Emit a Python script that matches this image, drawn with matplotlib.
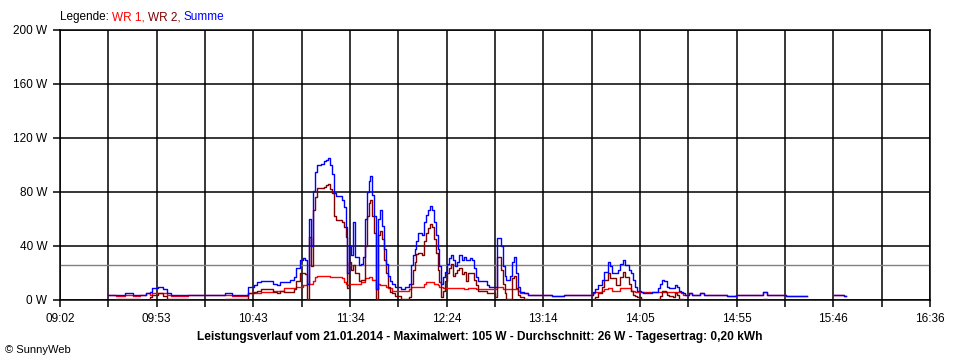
import numpy as np
import matplotlib
matplotlib.use("Agg")
from matplotlib import pyplot as plt

plt.rcParams['font.family'] = ['Liberation Sans', 'DejaVu Sans']

# readings (clock time, watts); NaN = no data
times = ["09:27", "09:31", "09:36", "09:40", "09:44", "09:47", "09:49", "09:50", "09:53", "09:56",
         "09:58", "10:00", "10:05", "10:09", "10:15", "10:21", "10:28", "10:32", "10:36", "10:40",
         "10:43", "10:45", "10:47", "10:53", "10:55", "10:57", "10:59", "11:02", "11:04", "11:05",
         "11:07", "11:09", "11:10", "11:11", "11:12", "11:13", "11:14", "11:15", "11:16", "11:18",
         "11:20", "11:21", "11:22", "11:23", "11:24", "11:25", "11:26", "11:29", "11:30", "11:31",
         "11:32", "11:33", "11:34", "11:35", "11:36", "11:38", "11:39", "11:40", "11:41", "11:42",
         "11:43", "11:44", "11:45", "11:46", "11:47", "11:48", "11:49", "11:50", "11:51", "11:52",
         "11:53", "11:54", "11:55", "11:57", "12:00", "12:02", "12:04", "12:05", "12:06", "12:07",
         "12:08", "12:09", "12:11", "12:12", "12:13", "12:14", "12:15", "12:16", "12:17", "12:18",
         "12:19", "12:20", "12:21", "12:22", "12:23", "12:24", "12:25", "12:26", "12:27", "12:28",
         "12:29", "12:30", "12:31", "12:32", "12:33", "12:34", "12:35", "12:36", "12:37", "12:38",
         "12:39", "12:40", "12:44", "12:45", "12:46", "12:49", "12:50", "12:52", "12:53", "12:54",
         "12:55", "12:57", "12:58", "12:59", "13:00", "13:01", "13:02", "13:04", "13:06", "13:13",
         "13:19", "13:25", "13:38", "13:40", "13:41", "13:43", "13:45", "13:46", "13:48", "13:49",
         "13:50", "13:52", "13:53", "13:54", "13:55", "13:56", "13:57", "13:58", "13:59", "14:00",
         "14:01", "14:02", "14:03", "14:05", "14:06", "14:10", "14:11", "14:13", "14:14", "14:15",
         "14:16", "14:17", "14:18", "14:19", "14:20", "14:22", "14:23", "14:24", "14:25", "14:26",
         "14:27", "14:28", "14:30", "14:32", "14:36", "14:38", "14:50", "14:55", "15:09", "15:11",
         "15:21", "15:32", "15:46", "15:51", "15:52"]

summe = [4, 4, 5, 4, 4, 5, 6, 9, 10, 8,
         5, 4, 4, 4, 4, 4, 5, 4, 4, 10,
         11, 13, 14, 12, 11, 13, 13, 15, 17, 24,
         30, 31, 30, 12, 60, 40, 81, 95, 100, 101,
         103, 104, 105, 100, 93, 79, 77, 74, 69, 54,
         20, 40, 33, 58, 32, 26, 27, 32, 60, 80,
         88, 92, 78, 62, 8, 60, 67, 55, 38, 27,
         18, 14, 12, 10, 8, 10, 12, 26, 33, 38,
         44, 50, 48, 58, 63, 67, 70, 67, 58, 48,
         38, 25, 12, 17, 21, 27, 31, 33, 30, 25,
         28, 33, 33, 30, 32, 30, 30, 31, 30, 24,
         17, 14, 14, 11, 10, 10, 46, 40, 25, 18,
         15, 18, 28, 32, 20, 10, 6, 5, 4, 4,
         3, 4, 4, 6, 8, 11, 15, 21, 28, 25,
         20, 20, 22, 27, 27, 30, 26, 26, 22, 20,
         15, 10, 7, 6, 5, 5, 6, 6, 9, 12,
         15, 14, 14, 10, 9, 9, 11, 10, 7, 6,
         5, 4, 5, 4, 5, 4, 3, 4, 6, 4,
         3, np.nan, 4, 3, np.nan]

wr1 = [4, 3, 4, 3, 4, 5, 4, 5, 5, 5,
       4, 3, 3, 4, 4, 4, 4, 3, 3, 5,
       5, 5, 6, 7, 7, 7, 9, 9, 9, 10,
       10, 11, 11, 12, 12, 12, 14, 17, 18, 18,
       18, 18, 18, 17, 17, 17, 17, 16, 13, 12,
       11, 12, 12, 12, 12, 12, 13, 13, 16, 16,
       17, 17, 15, 15, 8, 12, 11, 11, 11, 10,
       9, 9, 7, 7, 7, 7, 8, 10, 10, 10,
       10, 10, 10, 12, 13, 13, 13, 13, 12, 12,
       11, 10, 10, 9, 9, 9, 9, 9, 9, 9,
       9, 9, 9, 9, 8, 8, 9, 9, 9, 9,
       8, 8, 8, 8, 8, 8, 10, 10, 8, 8,
       8, 8, 8, 8, 8, 7, 5, 5, 4, 4,
       3, 4, 4, 5, 6, 6, 7, 8, 9, 9,
       7, 7, 7, 9, 9, 9, 9, 9, 9, 7,
       7, 6, 6, 6, 6, 6, 6, 6, 6, 6,
       6, 6, 6, 6, 6, 6, 6, 6, 6, 5,
       4, 4, 5, 4, 5, 4, 3, 4, 6, 4,
       3, np.nan, 4, 3, np.nan]

wr2 = [0, 1, 1, 1, 0, 0, 2, 4, 5, 3,
       1, 1, 1, 0, 0, 0, 1, 1, 1, 5,
       6, 7, 8, 6, 5, 7, 6, 6, 8, 14,
       20, 20, 19, 1, 47, 25, 67, 76, 83, 83,
       84, 85, 86, 82, 79, 62, 59, 58, 54, 47,
       9, 28, 22, 26, 20, 14, 15, 15, 40, 62,
       72, 74, 62, 50, 1, 48, 51, 45, 30, 20,
       10, 6, 5, 3, 1, 1, 2, 12, 22, 28,
       34, 35, 33, 44, 50, 53, 56, 54, 45, 35,
       22, 13, 2, 7, 14, 20, 24, 27, 18, 20,
       22, 24, 24, 19, 21, 14, 20, 20, 20, 15,
       11, 7, 7, 5, 5, 2, 32, 22, 12, 5,
       1, 1, 16, 18, 9, 4, 2, 1, 0, 0,
       0, 0, 0, 1, 2, 5, 10, 15, 20, 16,
       16, 11, 11, 17, 17, 21, 17, 17, 12, 7,
       4, 3, 2, 1, 0, 0, 0, 0, 1, 3,
       7, 7, 6, 4, 3, 2, 5, 4, 1, 1,
       0, 0, 0, 0, 0, 0, 0, 0, 1, 0,
       0, np.nan, 0, 0, np.nan]

average = 26
x_labels = ["09:02", "09:53", "10:43", "11:34", "12:24", "13:14", "14:05", "14:55", "15:46", "16:36"]
y_ticks = [0, 40, 80, 120, 160, 200]


def to_min(s):
    h, m = s.split(":")
    return int(h) * 60 + int(m)


t = np.array([to_min(s) for s in times], dtype=float)
xmin, xmax = to_min(x_labels[0]), to_min(x_labels[-1])

fig = plt.figure(figsize=(9.6, 3.6), dpi=100)
ax = fig.add_axes([60 / 960, 60 / 360, 870 / 960, 270 / 360])

ax.plot(t, wr1, color='#ff0000', lw=1.0, drawstyle='steps-post', zorder=3)
ax.plot(t, wr2, color='#800000', lw=1.0, drawstyle='steps-post', zorder=4)
ax.plot(t, summe, color='#0000ff', lw=1.0, drawstyle='steps-post', zorder=5)
ax.axhline(average, color='#808080', lw=1.0, zorder=2)

ax.set_xlim(xmin, xmax)
ax.set_ylim(0, 200)
xt = np.linspace(xmin, xmax, 2 * len(x_labels) - 1)
ax.set_xticks(xt)
ax.set_xticklabels([x_labels[i // 2] if i % 2 == 0 else "" for i in range(len(xt))])
ax.set_yticks(y_ticks)
ax.set_yticklabels(["%d W" % v for v in y_ticks])
ax.grid(True, color='black', lw=1.1)
ax.set_axisbelow(True)
for s in ax.spines.values():
    s.set_color('black')
    s.set_linewidth(1.1)
ax.tick_params(length=5, width=1.1, color='black', labelsize=8.5, pad=4)

# legend line at the top
txt = fig.text(60 / 960, 1 - 17 / 360, "Legende: ", fontsize=8.5, va='center')
for label, col in [("WR 1, ", '#ff0000'), ("WR 2, ", '#800000'), ("Summe", '#0000ff')]:
    txt = ax.annotate(label, xy=(1, 0), xycoords=txt, va='bottom', fontsize=8.5, color=col)

fig.text(0.5, 1 - 337 / 360,
         "Leistungsverlauf vom 21.01.2014 - Maximalwert: 105 W - Durchschnitt: 26 W - Tagesertrag: 0,20 kWh",
         ha='center', va='center', fontsize=8.6, weight='bold')
fig.text(5 / 960, 1 - 350 / 360, "© SunnyWeb", fontsize=8, va='center')

fig.savefig("out.png", dpi=100)
